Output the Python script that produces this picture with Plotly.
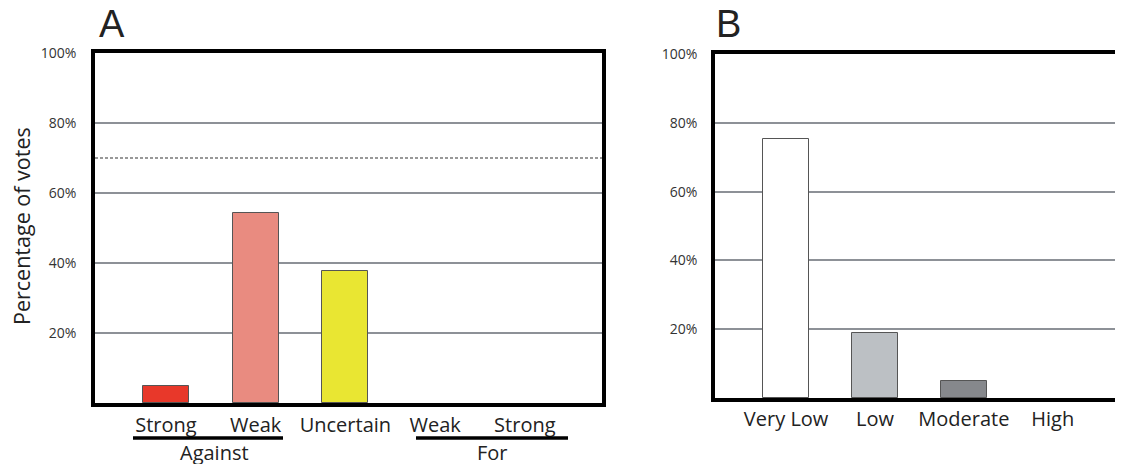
import plotly.graph_objects as go

# ---- data ----
a_labels = ["Strong", "Weak", "Uncertain", "Weak", "Strong"]
a_values = [5, 54.3, 37.8, 0, 0]
a_colors = ["#e8382a", "#e98b80", "#e9e632", "#ffffff", "#ffffff"]
threshold = 70

b_labels = ["Very Low", "Low", "Moderate", "High"]
b_values = [75.3, 18.9, 5.0, 0]
b_colors = ["#ffffff", "#bcc0c4", "#86888c", "#ffffff"]

y_ticks = [20, 40, 60, 80, 100]
y_ticktext = ["20%", "40%", "60%", "80%", "100%"]

W, H = 1123, 464
OFF = 8  # page body margin


def px(x):
    return (x - OFF) / W


def py(y):
    return 1 - (y - OFF) / H


FONT = "Open Sans"
fig = go.Figure()

fig.add_trace(go.Bar(
    x=list(range(len(a_labels))), y=a_values, width=0.51,
    marker=dict(color=a_colors,
                line=dict(color="#555555", width=[1 if v > 0 else 0 for v in a_values])),
    xaxis="x", yaxis="y", showlegend=False, hoverinfo="skip"))
fig.add_trace(go.Bar(
    x=list(range(len(b_labels))), y=b_values, width=0.52,
    marker=dict(color=b_colors,
                line=dict(color="#555555", width=[1 if v > 0 else 0 for v in b_values])),
    xaxis="x2", yaxis="y2", showlegend=False, hoverinfo="skip"))

grid = dict(showgrid=True, gridcolor="#8d9197", gridwidth=2, zeroline=False)
yfont = dict(family=FONT, size=14, color="#333333")
xfont = dict(family=FONT, size=20, color="#222222")

fig.update_layout(
    width=W, height=H, margin=dict(l=0, r=0, t=0, b=0, autoexpand=False),
    plot_bgcolor="white", paper_bgcolor="white", bargap=0,
    xaxis=dict(domain=[px(95), px(602)], anchor="y", range=[-0.79, 4.86],
               tickvals=list(range(len(a_labels))), ticktext=a_labels,
               tickfont=xfont, ticks="", ticklabelstandoff=1, automargin=False,
               showline=True, linecolor="black", linewidth=3.5, mirror=True,
               showgrid=False, zeroline=False, fixedrange=True),
    yaxis=dict(domain=[py(403), py(53)], anchor="x", range=[0, 100],
               tickvals=y_ticks, ticktext=y_ticktext, tickfont=yfont,
               ticks="", ticklabelstandoff=12, automargin=False,
               showline=True, linecolor="black", linewidth=3.5, mirror=True,
               **grid),
    xaxis2=dict(domain=[px(715), px(1122)], anchor="y2", range=[-0.80, 3.78],
                tickvals=list(range(len(b_labels))), ticktext=b_labels,
                tickfont=xfont, ticks="", ticklabelstandoff=0, automargin=False,
                showline=True, linecolor="black", linewidth=3.5, mirror=True,
                showgrid=False, zeroline=False),
    yaxis2=dict(domain=[py(398), py(54)], anchor="x2", range=[0, 100],
                tickvals=y_ticks, ticktext=y_ticktext, tickfont=yfont,
                ticks="", ticklabelstandoff=11, automargin=False,
                showline=True, linecolor="black", linewidth=3.5, mirror=False,
                **grid),
)

shapes = [
    # threshold dashed line in panel A
    dict(type="line", xref="x domain", yref="y", x0=0, x1=1, y0=threshold, y1=threshold,
         line=dict(color="#777777", width=1.5, dash="3px,2px")),
    # thin right border of panel B
    dict(type="line", xref="paper", yref="paper", x0=px(1121.5), x1=px(1121.5),
         y0=py(398), y1=py(54), line=dict(color="#aaaaaa", width=1)),
    # group underlines
    dict(type="line", xref="paper", yref="paper", x0=px(133), x1=px(283),
         y0=py(438), y1=py(438), line=dict(color="black", width=3.5)),
    dict(type="line", xref="paper", yref="paper", x0=px(416), x1=px(568),
         y0=py(438), y1=py(438), line=dict(color="black", width=3.5)),
]
fig.update_layout(shapes=shapes)

center = dict(xref="paper", yref="paper", showarrow=False, xanchor="center", yanchor="middle")
ann = [
    dict(text="A", x=px(112), y=py(24),
         font=dict(family="Liberation Sans", size=38, color="#222222"), **center),
    dict(text="B", x=px(728), y=py(24),
         font=dict(family="Liberation Sans", size=38, color="#222222"), **center),
    dict(text="Percentage of votes", x=px(21), y=py(226), textangle=-90,
         font=dict(family=FONT, size=21.5, color="#222222"), **center),
    dict(text="Against", x=px(214), y=py(452), font=xfont, **center),
    dict(text="For", x=px(492), y=py(452), font=xfont, **center),
]
fig.update_layout(annotations=ann)

fig.write_html("out.html")
